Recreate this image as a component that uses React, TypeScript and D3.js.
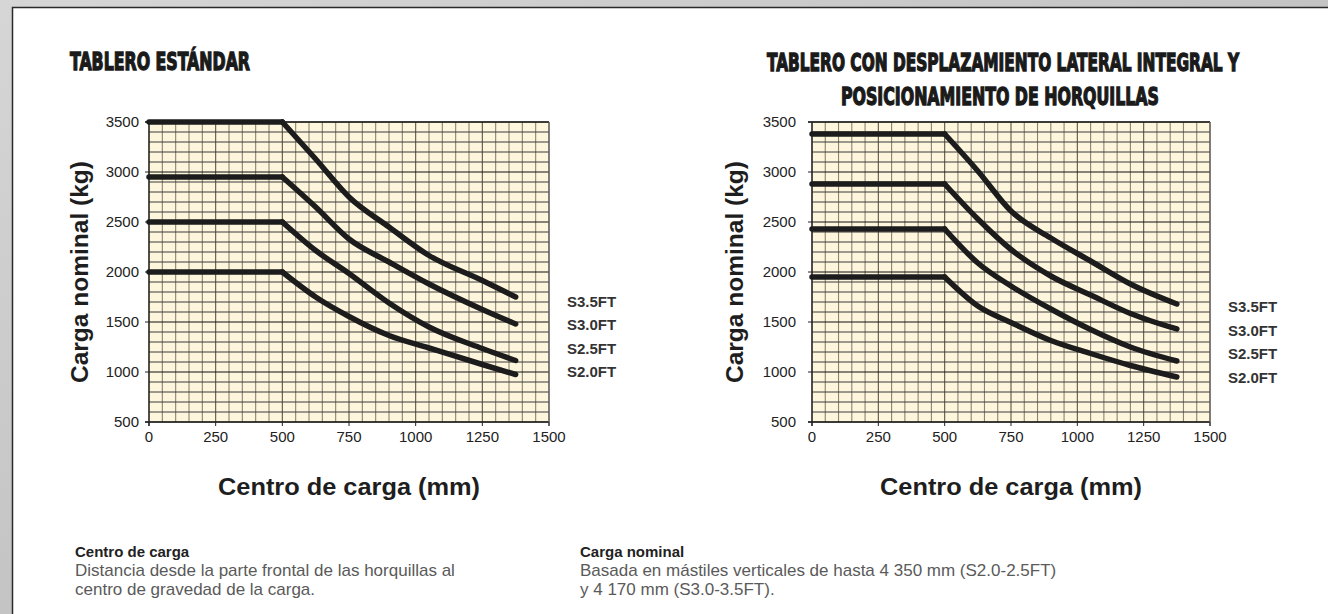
import React, { useLayoutEffect, useRef, useState } from 'react';
import * as d3 from 'd3';

// load centres (mm) sampled along each curve
const centersStd = [0, 500, 625, 750, 900, 1050, 1250, 1375];
const centersSide = [0, 500, 625, 750, 900, 1050, 1200, 1375];

const seriesNames = ['S3.5FT', 'S3.0FT', 'S2.5FT', 'S2.0FT'];

// rated load (kg) - standard carriage
const std35 = [3500, 3500, 3130, 2750, 2450, 2165, 1915, 1750];
const std30 = [2950, 2950, 2650, 2330, 2100, 1880, 1625, 1480];
const std25 = [2500, 2500, 2215, 1985, 1690, 1450, 1235, 1115];
const std20 = [2000, 2000, 1750, 1555, 1365, 1240, 1075, 975];

// rated load (kg) - integral sideshift + fork positioner
const side35 = [3380, 3380, 3010, 2610, 2340, 2110, 1880, 1680];
const side30 = [2880, 2880, 2530, 2225, 1960, 1770, 1585, 1430];
const side25 = [2430, 2430, 2090, 1860, 1630, 1425, 1250, 1110];
const side20 = [1950, 1950, 1660, 1495, 1315, 1185, 1065, 950];

const xTicks = [0, 250, 500, 750, 1000, 1250, 1500];
const yTicks = [500, 1000, 1500, 2000, 2500, 3000, 3500];

const W = 1328;
const H = 614;

const titleFont = "'Liberation Sans Narrow', 'DejaVu Sans Condensed', sans-serif";

// heavy condensed title: squeeze the text horizontally to a given width
function FitTitle({ x, y, width, children }: { x: number; y: number; width: number; children: string }) {
  const ref = useRef<SVGTextElement>(null);
  const [sx, setSx] = useState(0.7);
  useLayoutEffect(() => {
    if (!ref.current) return;
    const len = ref.current.getComputedTextLength();
    if (len > 0) setSx(width / len);
  }, [width, children]);
  return (
    <text ref={ref} transform={`translate(${x},${y}) scale(${sx},1)`}
      fontFamily={titleFont} fontWeight={700} fontSize={24}
      fill="#1a1a1a" stroke="#1a1a1a" strokeWidth={1.3}>
      {children}
    </text>
  );
}

interface ChartProps {
  x0: number;
  x1: number;
  centers: number[];
  series: number[][];
  yTitleX: number;
  labelGap: number;
  legendYs: number[];
}

function Chart({ x0, x1, centers, series, yTitleX, labelGap, legendYs }: ChartProps) {
  const top = 122;
  const bottom = 422;
  const x = d3.scaleLinear().domain([0, 1500]).range([x0, x1]);
  const y = d3.scaleLinear().domain([500, 3500]).range([bottom, top]);

  const vLines = d3.range(0, 1501, 50);
  const hLines = d3.range(500, 3501, 100);

  const flat = d3.line<[number, number]>().x(d => x(d[0])).y(d => y(d[1]));
  const bend = d3
    .line<[number, number]>()
    .x(d => x(d[0]))
    .y(d => y(d[1]))
    .curve(d3.curveMonotoneX);

  return (
    <g>
      <rect x={x0} y={top} width={x1 - x0} height={bottom - top} fill="#fdf5dc" />
      {vLines.map(v => (
        <line key={'v' + v} x1={x(v)} x2={x(v)} y1={top} y2={bottom}
          stroke={v % 250 === 0 ? '#5c5648' : '#8a8372'} strokeWidth={1.1} />
      ))}
      {hLines.map(v => (
        <line key={'h' + v} x1={x0} x2={x1} y1={y(v)} y2={y(v)}
          stroke={v % 500 === 0 ? '#111' : '#3a3a3a'} strokeWidth={1} />
      ))}
      {/* axes */}
      <line x1={x0} x2={x0} y1={top} y2={bottom + 4} stroke="#222" strokeWidth={1.3} />
      <line x1={x0 - 4} x2={x1} y1={bottom} y2={bottom} stroke="#222" strokeWidth={1.3} />
      <line x1={x0 - 4} x2={x1} y1={top} y2={top} stroke="#222" strokeWidth={1.3} />
      <line x1={x1} x2={x1} y1={top} y2={bottom + 4} stroke="#666" strokeWidth={1.2} />
      {yTicks.map(t => (
        <g key={'yt' + t}>
          <line x1={x0 - 4} x2={x0} y1={y(t)} y2={y(t)} stroke="#222" />
          <text x={x0 - labelGap} y={y(t)} dy="0.36em" textAnchor="end"
            fontFamily="'Liberation Sans Narrow', 'Liberation Sans', sans-serif" fontSize={15} fill="#222">
            {t}
          </text>
        </g>
      ))}
      {xTicks.map(t => (
        <g key={'xt' + t}>
          <line x1={x(t)} x2={x(t)} y1={bottom} y2={bottom + 4} stroke="#222" />
          <text x={x(t)} y={bottom + 20} textAnchor="middle"
            fontFamily="'Liberation Sans Narrow', 'Liberation Sans', sans-serif" fontSize={15} fill="#222">
            {t}
          </text>
        </g>
      ))}
      {series.map((vals, i) => {
        const pts = centers.map((c, k) => [c, vals[k]] as [number, number]);
        const kink = centers.indexOf(500);
        return (
          <g key={'s' + i} fill="none" stroke="#1c1c1c" strokeWidth={5.5} strokeLinecap="round" strokeLinejoin="round">
            <path d={flat(pts.slice(0, kink + 1)) || ''} />
            <path d={bend(pts.slice(kink)) || ''} />
          </g>
        );
      })}
      {seriesNames.map((n, i) => (
        <text key={n} x={x1 + 18} y={legendYs[i]} dy="0.36em"
          fontFamily="'Liberation Sans', Arial, sans-serif" fontWeight={700} fontSize={15} fill="#333">
          {n}
        </text>
      ))}
      <text transform={`translate(${yTitleX},${(top + bottom) / 2}) rotate(-90)`} textAnchor="middle"
        textLength={222} lengthAdjust="spacingAndGlyphs"
        fontFamily="'Liberation Sans', Arial, sans-serif" fontWeight={700} fontSize={24} fill="#1e1e1e"
        dy="0.36em">
        Carga nominal (kg)
      </text>
      <text x={(x0 + x1) / 2} y={495} textAnchor="middle" textLength={262} lengthAdjust="spacingAndGlyphs"
        fontFamily="'Liberation Sans', Arial, sans-serif" fontWeight={700} fontSize={24} fill="#1e1e1e">
        Centro de carga (mm)
      </text>
    </g>
  );
}

export default function App() {
  return (
    <svg width={W} height={H} viewBox={`0 0 ${W} ${H}`}
      style={{ position: 'absolute', left: 0, top: 0, display: 'block' }}>
      <defs>
        <linearGradient id="stone" x1="0" y1="0" x2="1" y2="1">
          <stop offset="0" stopColor="#d6d6d6" />
          <stop offset="0.5" stopColor="#c4c4c4" />
          <stop offset="1" stopColor="#d0d0d0" />
        </linearGradient>
      </defs>
      <rect x={0} y={0} width={W} height={H} fill="url(#stone)" />
      <rect x={12.5} y={7.5} width={W + 20} height={H + 20} fill="#fff" stroke="#2a2a2a" strokeWidth={1.5} />

      <FitTitle x={70} y={70} width={180}>TABLERO ESTÁNDAR</FitTitle>
      <FitTitle x={767} y={71} width={472}>TABLERO CON DESPLAZAMIENTO LATERAL INTEGRAL Y</FitTitle>
      <FitTitle x={841} y={105} width={318}>POSICIONAMIENTO DE HORQUILLAS</FitTitle>

      <Chart x0={149} x1={549} centers={centersStd} series={[std35, std30, std25, std20]}
        yTitleX={79} labelGap={10} legendYs={[302, 325, 349, 372]} />
      <Chart x0={812} x1={1210} centers={centersSide} series={[side35, side30, side25, side20]}
        yTitleX={734} labelGap={16} legendYs={[307, 331, 354, 378]} />

      <g fontFamily="'Liberation Sans', Arial, sans-serif">
        <text x={75} y={557} fontSize={15} fontWeight={700} fill="#222">Centro de carga</text>
        <text x={75} y={576} fontSize={17} fill="#5a5a5a">Distancia desde la parte frontal de las horquillas al</text>
        <text x={75} y={595} fontSize={17} fill="#5a5a5a">centro de gravedad de la carga.</text>
        <text x={580} y={557} fontSize={15} fontWeight={700} fill="#222">Carga nominal</text>
        <text x={580} y={576} fontSize={17} fill="#5a5a5a">Basada en mástiles verticales de hasta 4 350 mm (S2.0-2.5FT)</text>
        <text x={580} y={595} fontSize={17} fill="#5a5a5a">y 4 170 mm (S3.0-3.5FT).</text>
      </g>
    </svg>
  );
}
